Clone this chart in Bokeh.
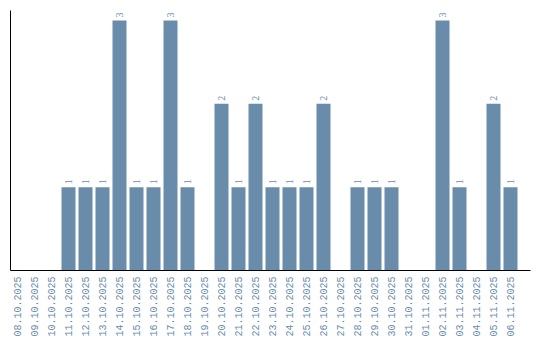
import math
from bokeh.plotting import figure
from bokeh.models import ColumnDataSource, FixedTicker, LabelSet, Range1d
from bokeh.embed import file_html
from bokeh.resources import INLINE

dates = ["08.10.2025", "09.10.2025", "10.10.2025", "11.10.2025", "12.10.2025",
         "13.10.2025", "14.10.2025", "15.10.2025", "16.10.2025", "17.10.2025",
         "18.10.2025", "19.10.2025", "20.10.2025", "21.10.2025", "22.10.2025",
         "23.10.2025", "24.10.2025", "25.10.2025", "26.10.2025", "27.10.2025",
         "28.10.2025", "29.10.2025", "30.10.2025", "31.10.2025", "01.11.2025",
         "02.11.2025", "03.11.2025", "04.11.2025", "05.11.2025", "06.11.2025"]
counts = [0, 0, 0, 1, 1, 1, 3, 1, 1, 3,
          1, 0, 2, 1, 2, 1, 1, 1, 2, 0,
          1, 1, 1, 0, 0, 3, 1, 0, 2, 1]

BAR = "#6a8cab"
FONT = "Liberation Mono"

xs = list(range(len(dates)))
src = ColumnDataSource(dict(x=xs, y=counts))
lab_x = [x for x, c in zip(xs, counts) if c > 0]
lab_y = [c for c in counts if c > 0]
lab_t = [str(c) for c in counts if c > 0]
lsrc = ColumnDataSource(dict(x=lab_x, y=lab_y, t=lab_t))

p = figure(width=540, height=340, output_backend="svg", toolbar_location=None,
           x_range=Range1d(-7 / 17, 30 + 3 / 17), y_range=Range1d(0, 3.12),
           min_border_left=10, min_border_right=10, min_border_top=10,
           min_border_bottom=70)
p.outline_line_color = None
p.xgrid.visible = False
p.ygrid.visible = False

p.vbar(x="x", top="y", width=14 / 17, source=src, color=BAR, line_color=None)

labels = LabelSet(x="x", y="y", text="t", source=lsrc, angle=math.pi / 2,
                  text_align="left", text_baseline="middle", y_offset=3,
                  text_font=FONT, text_font_size="10px", text_color=BAR)
p.add_layout(labels)

xa = p.xaxis[0]
xa.ticker = FixedTicker(ticks=xs)
xa.major_label_overrides = {i: d for i, d in enumerate(dates)}
xa.major_label_orientation = math.pi / 2
xa.major_label_text_font = FONT
xa.major_label_text_font_size = "10px"
xa.major_label_text_color = BAR
xa.major_tick_out = 0
xa.major_tick_in = 0
xa.minor_tick_out = 0
xa.minor_tick_in = 0
xa.major_label_standoff = 6
xa.axis_line_color = "black"

ya = p.yaxis[0]
ya.ticker = FixedTicker(ticks=[])
ya.major_tick_out = 0
ya.minor_tick_out = 0
ya.major_label_text_font_size = "0px"
ya.axis_line_color = "black"

open("out.html", "w").write(file_html(p, INLINE))
